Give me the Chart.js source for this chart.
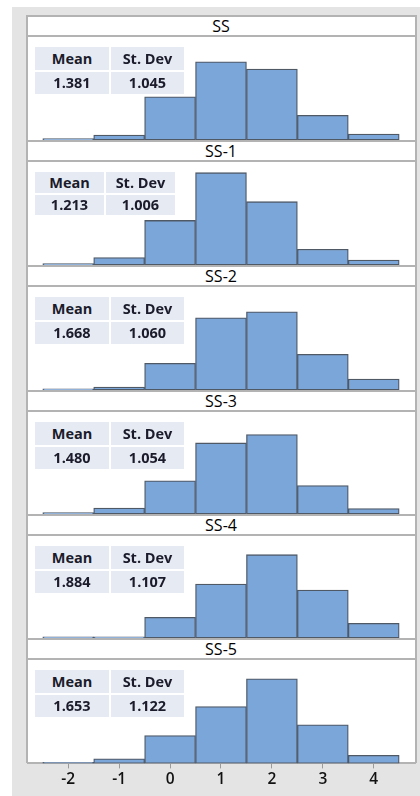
<!DOCTYPE html>
<html>
<head>
<meta charset="utf-8">
<script src="https://cdn.jsdelivr.net/npm/chart.js@4/dist/chart.umd.min.js"></script>
<style>
  html, body { margin: 0; padding: 0; background: #ffffff; }
  body { width: 420px; height: 796px; position: relative; overflow: hidden; font-family: "Open Sans", "DejaVu Sans", sans-serif; }
  .bg { position: absolute; left: 12px; top: 7px; width: 408px; height: 789px; background: #e4e4e4; }
  .frame { position: absolute; left: 26px; top: 15px; width: 390px; height: 748px; background: #ffffff; }
  .vline { position: absolute; width: 2px; background: #b3b3b3; }
  .strip { position: absolute; left: 26px; width: 390px; height: 18px; border-top: 2px solid #b3b3b3; border-bottom: 2px solid #b3b3b3;
           background: #ffffff; text-align: center; font-size: 16px; line-height: 18px; color: #000; }
  .plot { position: absolute; left: 27px; }
  .stats { position: absolute; left: 35px; }
  .cell { position: absolute; background: #e6ebf3; color: #1b1b2b; font-weight: 700; font-size: 14.5px; text-align: center; }
</style>
</head>
<body>
<div class="bg"></div>
<div class="frame"></div>
<div id="root"></div>
<script>
// Panel labels and summary statistics
const panelNames = ['SS', 'SS-1', 'SS-2', 'SS-3', 'SS-4', 'SS-5'];
const means = [1.381, 1.213, 1.668, 1.480, 1.884, 1.653];
const stdDevs = [1.045, 1.006, 1.060, 1.054, 1.107, 1.122];

// Histogram bin centres (bin width 1) and percent of observations in each bin
const binCenters = [-2, -1, 0, 1, 2, 3, 4];
const pctSS  = [0.6, 2.2, 18.9, 34.2, 31.0, 10.8, 2.6];
const pctSS1 = [0.6, 3.3, 19.5, 40.4, 27.7, 6.9, 2.2];
const pctSS2 = [0.5, 1.3, 11.7, 31.6, 34.2, 15.6, 4.8];
const pctSS3 = [0.6, 2.6, 14.7, 31.4, 35.1, 12.6, 2.4];
const pctSS4 = [0.5, 0.5, 9.1, 23.8, 36.8, 21.2, 6.5];
const pctSS5 = [0.5, 2.0, 12.1, 24.8, 36.9, 16.8, 3.5];
const panelValues = [pctSS, pctSS1, pctSS2, pctSS3, pctSS4, pctSS5];

// Axis tick labels shared by all panels
const xTicks = [-2, -1, 0, 1, 2, 3, 4];

// Layout
const stripTops = [15, 140, 265, 390, 514, 638];
const axisLineY = 763;
const xMin = -2.81, xMax = 4.83;
const yMax = 45.5;

const root = document.getElementById('root');

function addLine(x, top, h) {
  const d = document.createElement('div');
  d.className = 'vline';
  d.style.left = x + 'px'; d.style.top = top + 'px'; d.style.height = h + 'px';
  root.appendChild(d);
}

function addStats(plotTop, i) {
  const narrow = i === 1;
  const c1w = narrow ? 69 : 74;
  const c2w = narrow ? 69 : 73;
  const r1h = narrow ? 21 : 23;
  const r2h = narrow ? 20 : 22;
  const box = document.createElement('div');
  box.className = 'stats';
  box.style.top = (plotTop + 11) + 'px';
  const cells = [
    ['Mean', 0, 0, c1w, r1h],
    ['St. Dev', c1w + 2, 0, c2w, r1h],
    [means[i].toFixed(3), 0, r1h + 2, c1w, r2h],
    [stdDevs[i].toFixed(3), c1w + 2, r1h + 2, c2w, r2h]
  ];
  for (const [t, x, y, w, h] of cells) {
    const c = document.createElement('div');
    c.className = 'cell';
    c.textContent = t;
    c.style.left = x + 'px'; c.style.top = y + 'px';
    c.style.width = w + 'px'; c.style.height = h + 'px';
    c.style.lineHeight = h + 'px';
    box.appendChild(c);
  }
  root.appendChild(box);
}

for (let i = 0; i < panelNames.length; i++) {
  const last = i === panelNames.length - 1;
  const stripTop = stripTops[i];
  const plotTop = stripTop + 21;
  const plotBottom = last ? axisLineY : stripTops[i + 1];
  const axisExtra = last ? (796 - axisLineY) : 0;

  const wrap = document.createElement('div');
  wrap.className = 'plot';
  wrap.style.top = plotTop + 'px';
  wrap.style.width = '389px';
  wrap.style.height = (plotBottom - plotTop + axisExtra) + 'px';
  const canvas = document.createElement('canvas');
  wrap.appendChild(canvas);
  root.appendChild(wrap);

  new Chart(canvas, {
    type: 'bar',
    data: {
      datasets: [{
        data: binCenters.map((x, k) => ({ x: x, y: panelValues[i][k] })),
        backgroundColor: '#7ba6d9',
        borderColor: '#4f5966',
        borderWidth: 1.3,
        barPercentage: 1,
        categoryPercentage: 1,
        borderSkipped: false
      }]
    },
    options: {
      animation: false,
      responsive: true,
      maintainAspectRatio: false,
      devicePixelRatio: 1,
      layout: { padding: { left: 0, right: 0, top: 0, bottom: last ? 5 : 0 } },
      plugins: { legend: { display: false }, tooltip: { enabled: false } },
      scales: {
        x: {
          type: 'linear',
          offset: false,
          min: xMin,
          max: xMax,
          display: last,
          afterBuildTicks: s => { s.ticks = xTicks.map(v => ({ value: v })); },
          grid: { display: true, offset: false, drawOnChartArea: false, drawTicks: true, tickLength: 5, color: '#9a9a9a', lineWidth: 1 },
          border: { display: true, color: '#b3b3b3', width: 2 },
          ticks: { font: { family: '"Open Sans", sans-serif', size: 15.5, weight: '600' }, color: '#111', padding: 2, maxRotation: 0 }
        },
        y: { min: 0, max: yMax, display: false }
      }
    }
  });

  const strip = document.createElement('div');
  strip.className = 'strip';
  strip.style.top = stripTop + 'px';
  strip.textContent = panelNames[i];
  root.appendChild(strip);

  addStats(plotTop, i);
}

addLine(26, 15, axisLineY - 15);
addLine(415, 15, axisLineY - 15);
</script>
</body>
</html>
